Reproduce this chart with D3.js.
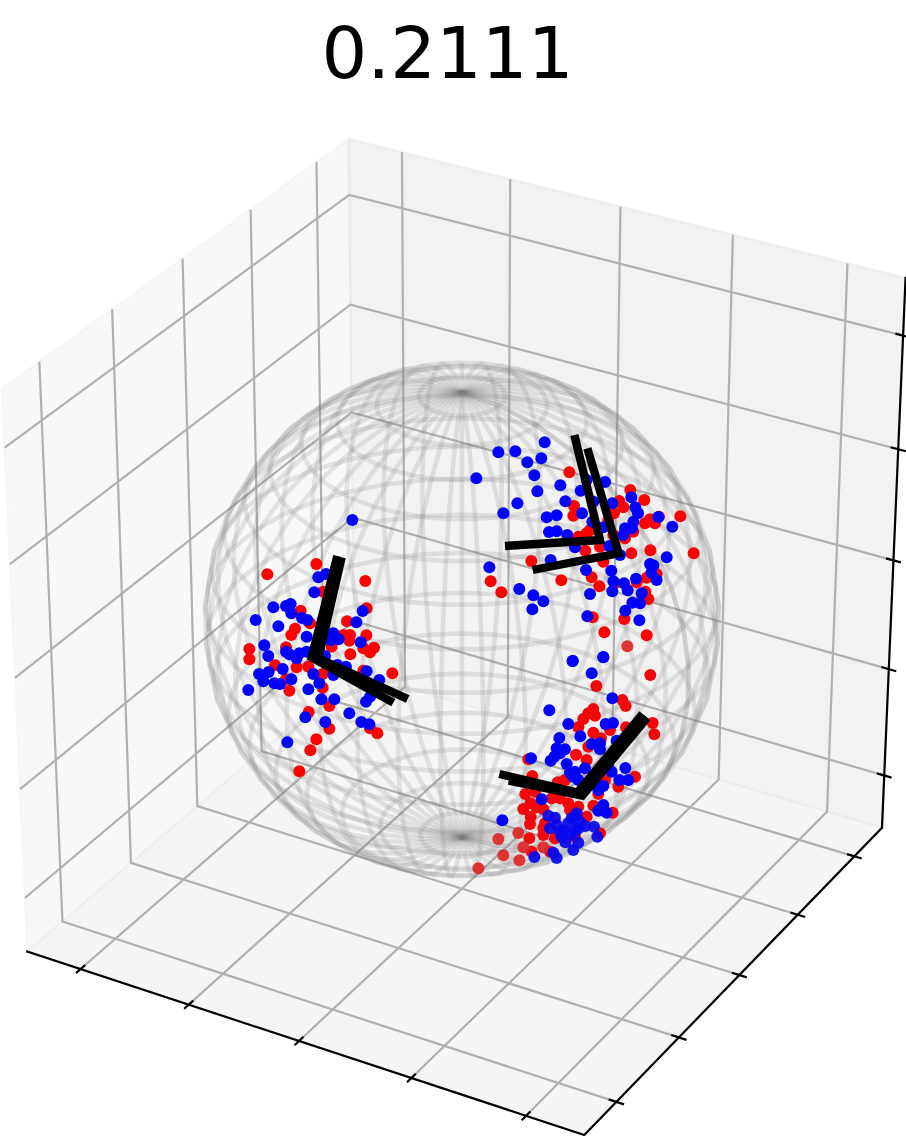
<!DOCTYPE html>
<html><head><meta charset="utf-8"><title>0.2111</title>
<script src="https://cdn.jsdelivr.net/npm/d3@7"></script>
<style>html,body{margin:0;padding:0;background:#fff;overflow:hidden}svg{display:block}</style>
</head><body><svg id="c" width="906" height="1136"></svg>
<script>
const titleText = "0.2111";
const axisLimits = [-1.25, 1.25];
const tickValues = [-1, -0.5, 0, 0.5, 1];
const sphereRadius = 1;
const sphereCenterZ = -0.008;
const meridianCount = 40;
const parallelCount = 20;

// Points, in each cluster's own read-off frame
const clusterFrames = {
  a: {dx:[0,690], dy:[0,810], rx:[200,430], ry:[520,790]},
  b: {dx:[0,750], dy:[0,720], rx:[460,710], ry:[420,660]},
  c: {dx:[0,660], dy:[0,720], rx:[460,680], ry:[650,890]}
};
const redA = [[349,132],[202,163],[496,183],[370,215],[500,265],[302,272],[441,304],[285,326],[274,345],[330,310],[430,345],[450,345],[448,362],[499,346],[395,380],[148,387],[148,418],[258,382],[451,403],[490,385],[522,383],[510,397],[225,435],[290,442],[325,440],[368,462],[490,452],[577,460],[258,478],[268,512],[368,503],[388,558],[326,576],[388,626],[510,625],[532,640],[349,658],[331,691],[298,754]];
const blueA = [[457,0],[355,172],[378,162],[343,217],[220,262],[258,258],[272,252],[274,280],[488,273],[167,300],[306,294],[322,300],[469,307],[235,319],[400,340],[320,350],[392,360],[416,358],[482,367],[193,376],[258,395],[268,403],[205,408],[298,400],[290,415],[320,395],[375,408],[412,435],[438,440],[248,447],[177,462],[206,456],[190,484],[223,490],[240,492],[274,478],[340,462],[358,490],[400,465],[500,454],[538,480],[145,510],[325,508],[364,538],[403,538],[498,545],[510,530],[316,592],[448,580],[376,606],[484,606],[508,613],[262,667]];
const redB = [[328,157],[511,210],[553,240],[478,243],[490,262],[342,258],[340,287],[462,280],[445,300],[555,310],[570,298],[585,310],[597,290],[661,289],[390,330],[380,340],[355,350],[520,335],[495,355],[460,345],[420,380],[376,392],[514,400],[571,391],[701,400],[214,423],[430,425],[395,472],[92,484],[304,481],[418,499],[124,517],[465,490],[530,487],[560,473],[590,462],[556,515],[565,537],[398,592],[493,597],[433,637],[560,646]];
const redBFar = [[502,679]];
const blueB = [[254,67],[115,97],[166,94],[244,115],[202,127],[223,166],[49,175],[232,214],[301,196],[362,212],[380,180],[435,186],[316,244],[172,250],[130,280],[260,292],[290,286],[366,280],[400,245],[457,250],[514,232],[526,262],[534,280],[397,305],[267,336],[290,334],[322,345],[430,322],[345,382],[448,378],[480,405],[495,325],[520,305],[516,325],[490,345],[595,291],[637,320],[272,420],[88,442],[378,450],[454,452],[460,484],[457,514],[492,490],[503,511],[528,476],[620,412],[570,432],[580,436],[574,458],[590,480],[390,522],[545,520],[540,550],[517,548],[496,572],[178,507],[220,526],[250,544],[217,568],[382,589],[538,601],[338,722],[430,712]];
const redC = [[571,75],[409,108],[487,150],[497,168],[400,177],[370,207],[405,197],[385,190],[355,232],[450,240],[498,232],[578,219],[583,253],[400,248],[423,265],[385,290],[348,314],[380,330],[205,328],[217,378],[525,380],[475,410],[415,432],[435,390],[196,432],[293,397],[315,390],[225,425],[275,445],[325,460],[355,470],[400,467],[458,488],[190,477],[212,460],[250,478],[212,500],[210,522],[230,472],[380,500],[250,535],[208,565],[250,555],[215,605],[285,565],[420,550],[345,560],[270,605],[300,445],[255,520],[330,480]];
const redCFar = [[175,549],[115,567],[190,592],[250,592],[130,616],[178,631],[55,655]];
const blueC = [[338,34],[430,21],[395,70],[457,145],[268,181],[325,222],[437,222],[459,219],[361,259],[298,264],[395,282],[470,272],[420,298],[290,295],[315,298],[213,325],[283,320],[272,332],[320,342],[375,355],[330,368],[345,365],[355,390],[455,365],[496,354],[478,390],[505,390],[430,408],[415,420],[245,448],[430,465],[415,482],[440,488],[127,511],[300,310],[340,380],[445,350],[420,280]];
const blueCFar = [[265,497],[285,503],[350,490],[335,505],[325,520],[270,535],[310,540],[355,535],[375,528],[402,530],[412,560],[305,560],[316,577],[355,578],[340,600],[223,621],[280,608],[290,624],[300,545],[330,555],[345,500],[290,525],[345,545],[360,515]];
// Black frames: [end, corner, end] in the same read-off frames
const framesA = [[[412,108],[335,412],[580,548]],[[425,112],[355,415],[623,537]]];
const framesB = [[[135,378],[420,360],[343,45]],[[218,450],[476,400],[382,85]]];
const framesC = [[[118,372],[352,428],[548,192]],[[146,392],[367,437],[562,203]]];

const svg = d3.select("#c");

// --- camera (elevation 30, azimuth -60, unit cube) ---
const toUnit = d3.scaleLinear().domain(axisLimits).range([-0.5, 0.5]);
const elev = 30*Math.PI/180, azim = -60*Math.PI/180, dist = 9;
const W = [Math.cos(elev)*Math.cos(azim), Math.cos(elev)*Math.sin(azim), Math.sin(elev)];
const U = [-Math.sin(azim), Math.cos(azim), 0];
const V = [-Math.sin(elev)*Math.cos(azim), -Math.sin(elev)*Math.sin(azim), Math.cos(elev)];
const dot = (a,b)=>a[0]*b[0]+a[1]*b[1]+a[2]*b[2];
function camera(x,y,z){
  const p=[toUnit(x),toUnit(y),toUnit(z)];
  const k=dist/(dist-dot(p,W));
  return [dot(p,U)*k, dot(p,V)*k];
}
const [lo,hi]=axisLimits;
const sx = d3.scaleLinear().domain([camera(lo,lo,hi)[0],camera(hi,hi,lo)[0]]).range([2,882]);
const sy = d3.scaleLinear().domain([camera(hi,lo,lo)[1],camera(lo,hi,hi)[1]]).range([1135,139]);
function proj(x,y,z){const c=camera(x,y,z);return [sx(c[0]),sy(c[1])];}
const line3 = pts => d3.line()(pts.map(p=>proj(...p)));

// --- panes ---
const panes=[
 {c:"rgb(242,242,242)",pts:[[lo,lo,lo],[lo,hi,lo],[lo,hi,hi],[lo,lo,hi]]},
 {c:"rgb(230,230,230)",pts:[[lo,hi,lo],[hi,hi,lo],[hi,hi,hi],[lo,hi,hi]]},
 {c:"rgb(236,236,236)",pts:[[lo,lo,lo],[hi,lo,lo],[hi,hi,lo],[lo,hi,lo]]}
];
svg.append("g").selectAll("path").data(panes).join("path")
  .attr("d",d=>line3(d.pts)+"Z").attr("fill",d=>d.c).attr("fill-opacity",0.5)
  .attr("stroke",d=>d.c).attr("stroke-opacity",0.5).attr("stroke-width",2.2).attr("stroke-linejoin","miter");

// --- grid ---
const gridG=svg.append("g").attr("fill","none").attr("stroke","#b0b0b0").attr("stroke-width",2.2);
tickValues.forEach(t=>{
  gridG.append("path").attr("d",line3([[t,lo,lo],[t,hi,lo],[t,hi,hi]]));
  gridG.append("path").attr("d",line3([[hi,t,lo],[lo,t,lo],[lo,t,hi]]));
  gridG.append("path").attr("d",line3([[lo,lo,t],[lo,hi,t],[hi,hi,t]]));
});

// --- axes and ticks ---
const axG=svg.append("g").attr("fill","none").attr("stroke","#000");
axG.append("path").attr("stroke-width",2.2).attr("stroke-linecap","square")
  .attr("d",line3([[lo,lo,lo],[hi,lo,lo],[hi,hi,lo],[hi,hi,hi]]));
const tl=0.033;
tickValues.forEach(t=>{
  axG.append("path").attr("stroke-width",2.2).attr("d",line3([[t,lo-tl,lo],[t,lo+tl,lo]]));
  axG.append("path").attr("stroke-width",2.2).attr("d",line3([[hi-tl,t,lo],[hi+tl,t,lo]]));
  axG.append("path").attr("stroke-width",2.2).attr("d",line3([[hi-tl,hi,t],[hi+tl,hi,t]]));
});

// --- wireframe sphere ---
const wire=svg.append("g").attr("fill","none").attr("stroke","#808080").attr("stroke-opacity",0.18).attr("stroke-width",4.6);
const us=d3.range(meridianCount).map(i=>2*Math.PI*i/(meridianCount-1));
const vs=d3.range(parallelCount).map(i=>Math.PI*i/(parallelCount-1));
const sph=(u,v)=>[sphereRadius*Math.cos(u)*Math.sin(v),sphereRadius*Math.sin(u)*Math.sin(v),sphereCenterZ+sphereRadius*Math.cos(v)];
us.forEach(u=>wire.append("path").attr("d",line3(vs.map(v=>sph(u,v)))));
vs.forEach(v=>wire.append("path").attr("d",line3(us.map(u=>sph(u,v)))));

// --- points ---
const scales={};
Object.entries(clusterFrames).forEach(([k,f])=>{
  scales[k]={x:d3.scaleLinear().domain(f.dx).range(f.rx),y:d3.scaleLinear().domain(f.dy).range(f.ry)};
});
function dots(data,key,color,op){
  const s=scales[key];
  svg.append("g").selectAll("circle").data(data).join("circle")
    .attr("cx",d=>s.x(d[0])).attr("cy",d=>s.y(d[1])).attr("r",6)
    .attr("fill",color).attr("fill-opacity",op);
}
dots(redA,"a","#ff0000",1);
dots(redB,"b","#ff0000",1);
dots(redBFar,"b","#dd2a2a",0.95);
dots(redC,"c","#f20808",1);
dots(redCFar,"c","#dc2a2a",0.95);
dots(blueA,"a","#0000ff",1);
dots(blueB,"b","#0000ff",1);
dots(blueC,"c","#0000ff",1);
dots(blueCFar,"c","#0808ee",0.93);

// --- black frames ---
function frames(data,key){
  const s=scales[key];
  svg.append("g").selectAll("path").data(data).join("path")
    .attr("d",d=>d3.line()(d.map(p=>[s.x(p[0]),s.y(p[1])])))
    .attr("fill","none").attr("stroke","#000").attr("stroke-width",8.4)
    .attr("stroke-linecap","butt").attr("stroke-linejoin","miter");
}
frames(framesA,"a");frames(framesB,"b");frames(framesC,"c");

// --- title ---
svg.append("text").attr("x",447.5).attr("y",78).attr("text-anchor","middle")
  .attr("font-family","DejaVu Sans").attr("font-size",72).attr("fill","#000").text(titleText);
</script></body></html>
